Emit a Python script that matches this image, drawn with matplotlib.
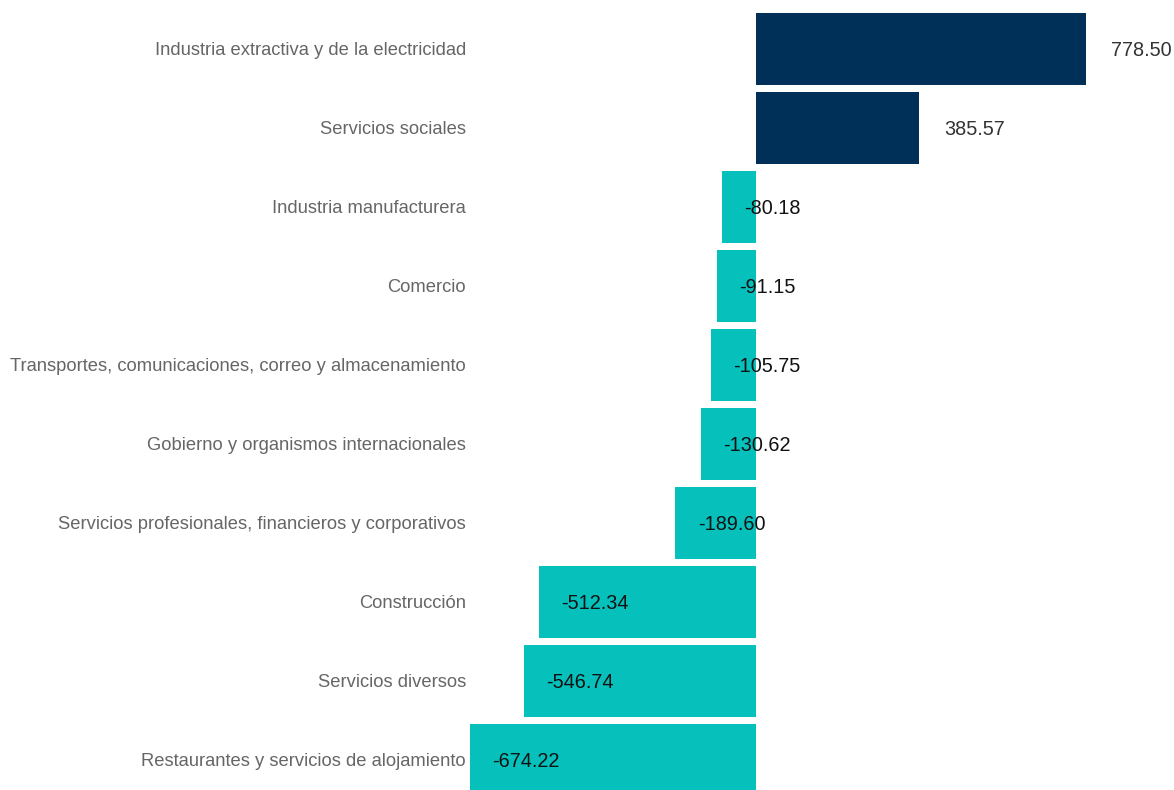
import matplotlib
matplotlib.use('Agg')
import matplotlib.pyplot as plt

# sectors and change values (top to bottom)
sectores = [
    'Industria extractiva y de la electricidad',
    'Servicios sociales',
    'Industria manufacturera',
    'Comercio',
    'Transportes, comunicaciones, correo y almacenamiento',
    'Gobierno y organismos internacionales',
    'Servicios profesionales, financieros y corporativos',
    'Construcción',
    'Servicios diversos',
    'Restaurantes y servicios de alojamiento',
]
valores = [778.50, 385.57, -80.18, -91.15, -105.75, -130.62, -189.60,
           -512.34, -546.74, -674.22]

pos_color = '#003057'
neg_color = '#06c0bc'

plt.rcParams['font.family'] = ['Liberation Sans', 'DejaVu Sans']

fig = plt.figure(figsize=(11.74, 7.90), dpi=100)
W, H = 1174, 790
ax = fig.add_axes([470 / W, 0, (1086 - 470) / W, 1])

ys = list(range(len(sectores)))
colors = [pos_color if v > 0 else neg_color for v in valores]
ax.barh(ys, valores, height=0.91, color=colors)

for y, v in zip(ys, valores):
    dx = 18 if v > 0 else 16
    ax.annotate(f'{v:.2f}', xy=(v, y), xytext=(dx, -1.2), textcoords='offset points',
                ha='left', va='center', fontsize=14.3,
                color='#333333' if v > 0 else '#111111',
                annotation_clip=False)

ax.set_xlim(min(valores), max(valores))
ax.set_ylim(9.38, -0.62)
ax.set_yticks(ys)
ax.set_yticklabels(sectores, fontsize=13.25, color='#666666')
ax.tick_params(axis='y', length=0, pad=3)
ax.set_xticks([])
for s in ax.spines.values():
    s.set_visible(False)

fig.savefig('out.png', dpi=100)
